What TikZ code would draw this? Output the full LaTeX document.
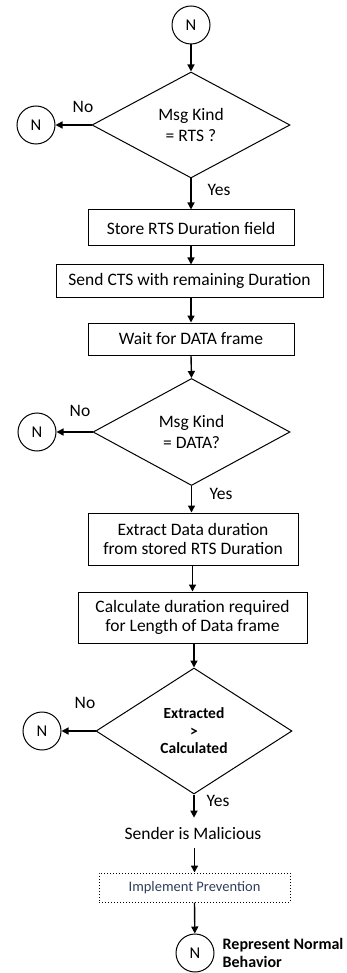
\documentclass[tikz,border=0pt]{standalone}
\usepackage{fontspec}
\setmainfont{Carlito}
\usetikzlibrary{shapes.geometric,arrows.meta,positioning}
\definecolor{prevtext}{RGB}{47,62,90}

\begin{document}
\begin{tikzpicture}[x=1pt,y=-1pt,
  conn/.style={circle,draw,line width=1pt,minimum size=38pt,inner sep=0pt,font=\fontsize{16.5}{18}\selectfont},
  proc/.style={rectangle,draw,line width=1pt,align=center,inner sep=0pt,font=\fontsize{17.5}{18.7}\selectfont},
  cond/.style={diamond,draw,line width=1pt,align=center,inner sep=0pt,font=\fontsize{17.5}{21}\selectfont},
  lbl/.style={inner sep=0pt,font=\fontsize{17.5}{18.7}\selectfont},
  flow/.style={-{Triangle[length=7pt,width=7pt]},line width=1.4pt}]
  \useasboundingbox (0,0) rectangle (347,973);

  \node[conn] at (191,25) (start) {N};
  \node[cond,minimum width=198pt,minimum height=106pt] at (191,125) (rts) {Msg Kind\\= RTS ?};
  \node[conn] at (36,125) (n1) {N};
  \node[proc,minimum width=206pt,minimum height=36pt] at (191,228) (store) {Store RTS Duration field};
  \node[proc,minimum width=267pt,minimum height=32pt] at (189.5,281) (cts) {Send CTS with remaining Duration};
  \node[proc,minimum width=206pt,minimum height=32pt] at (191,339) (wait) {Wait for DATA frame};
  \node[cond,minimum width=197pt,minimum height=107pt] at (191.5,432) (data) {Msg Kind\\= DATA?};
  \node[conn] at (37,432) (n2) {N};
  \node[proc,minimum width=210pt,minimum height=52pt] at (193,539) (extract) {Extract Data duration\\from stored RTS Duration};
  \node[proc,minimum width=229pt,minimum height=51pt] at (192.5,617.5) (calc) {Calculate duration required\\for Length of Data frame};
  \node[cond,minimum width=196pt,minimum height=126pt,font=\fontsize{15.5}{17.5}\selectfont\bfseries] at (194,731) (cmp) {Extracted\\>\\Calculated};
  \node[conn] at (42,731) (n3) {N};
  \node[lbl,inner ysep=9pt] at (193,833) (mal) {Sender is Malicious};
  \node[proc,dotted,minimum width=191pt,minimum height=29pt,text=prevtext,font=\fontsize{14.5}{16}\selectfont] at (194.5,887.5) (prev) {Implement Prevention};
  \node[conn] at (195,953) (stop) {N};
  \node[lbl,right=8pt of stop,align=left,font=\fontsize{16}{18}\selectfont\bfseries] (normal) {Represent Normal\\Behavior};

  \node[lbl] at (83,107) (no1) {No};
  \node[lbl] at (80,411) (no2) {No};
  \node[lbl] at (85,703) (no3) {No};
  \node[lbl] at (219,190) (yes1) {Yes};
  \node[lbl] at (221,494) (yes2) {Yes};
  \node[lbl] at (218,801) (yes3) {Yes};

  \draw[flow] (start) -- (rts);
  \draw[flow] (rts.west) -- (n1);
  \draw[flow] (rts.south) -- (rts.south |- store.north);
  \draw[flow] (store.south) -- (store.south |- cts.north);
  \draw[flow] (store.south |- cts.south) -- (store.south |- wait.north);
  \draw[flow] (wait.south) -- (data.north);
  \draw[flow] (data.west) -- (n2);
  \draw[flow] (data.south) -- (data.south |- extract.north);
  \draw[flow] (calc.north |- extract.south) -- (calc.north);
  \draw[flow] (cmp.north |- calc.south) -- (cmp.north);
  \draw[flow] (cmp.west) -- (n3);
  \draw[flow] (cmp.south) -- (mal.north -| cmp.south);
  \draw[flow] (mal.south -| prev.north) -- (prev.north);
  \draw[flow] (prev.south) -- (stop);
\end{tikzpicture}
\end{document}
